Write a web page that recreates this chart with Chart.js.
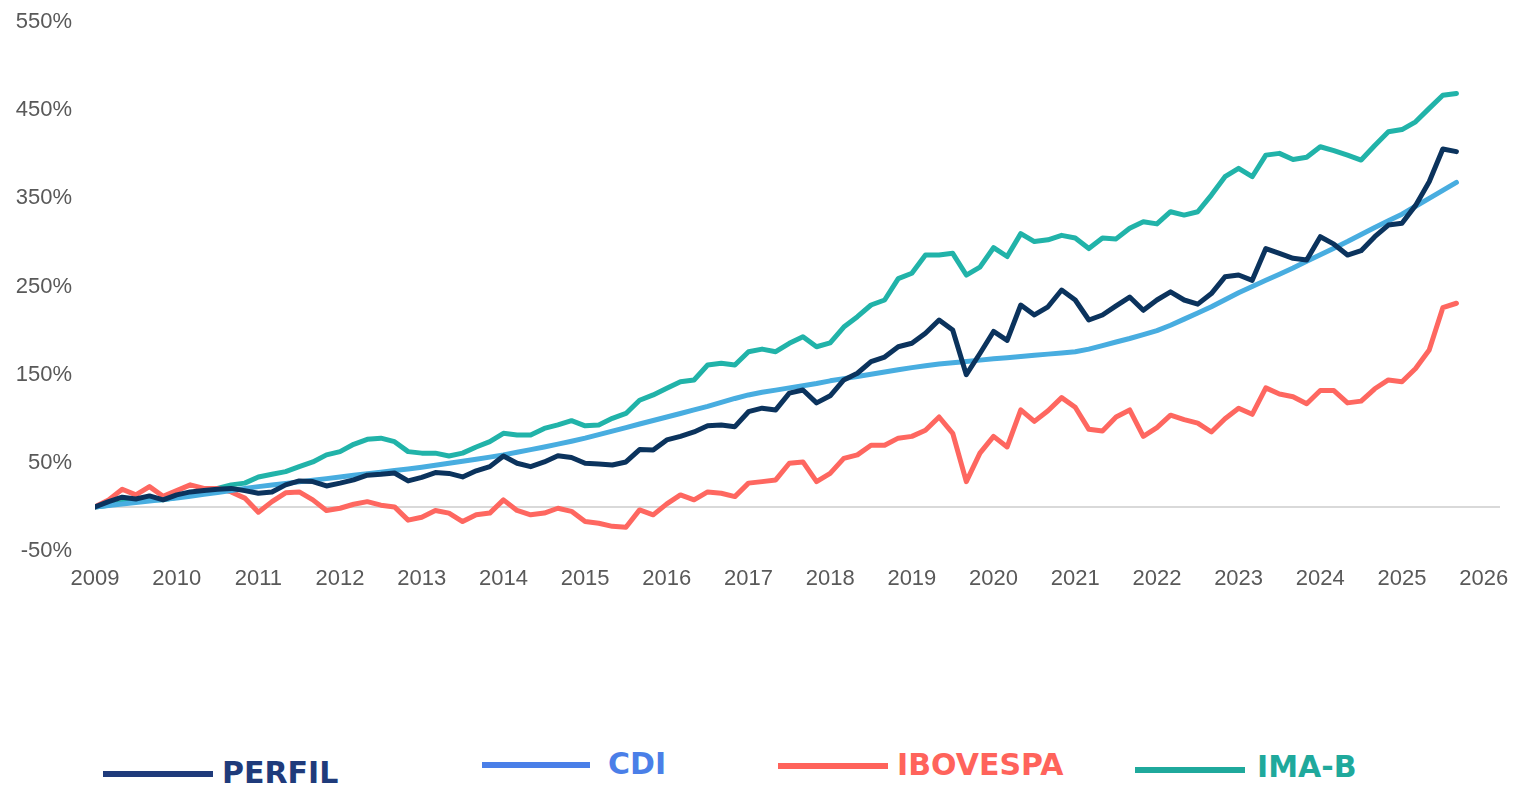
<!DOCTYPE html>
<html lang="pt-BR">
<head>
<meta charset="utf-8">
<title>PERFIL x CDI x IBOVESPA x IMA-B</title>
<script src="https://cdn.jsdelivr.net/npm/chart.js@4.4.1/dist/chart.umd.min.js"></script>
<style>
    html, body {
        margin: 0;
        padding: 0;
        background: #ffffff;
        width: 1524px;
        height: 788px;
        overflow: hidden;
    }
    #chartBox {
        position: absolute;
        left: 0;
        top: 0;
        width: 1524px;
        height: 600px;
    }
    .legend-item {
        position: absolute;
        font-family: "DejaVu Sans", "Open Sans", sans-serif;
        font-weight: bold;
        font-size: 30px;
        line-height: 30px;
        white-space: nowrap;
    }
    .legend-line {
        position: absolute;
        height: 6px;
    }
</style>
</head>
<body>
<div id="chartBox"><canvas id="returnsChart"></canvas></div>
<div id="legend"></div>

<script>
// Cumulative return (%), one point every two months, Jan 2009 -> Sep 2025
const startYear = 2009;
const stepMonths = 2;

const perfil = [
    0, 6, 11, 9, 12.5, 8, 13.6, 17, 18.5, 20,
    21, 18.5, 15.5, 17, 25, 29.5, 28.7, 23.8, 27, 30.6,
    36, 37, 38.5, 29.5, 33.6, 39, 38, 34, 41, 45.7,
    57.8, 49.5, 45.7, 51, 58, 56, 49.5, 48.7, 47.6, 51,
    65, 64.6, 76, 80, 85, 92, 93, 91, 108, 112,
    110, 129, 132.6, 118, 126, 144, 151.6, 164.7, 170, 181.7,
    185.6, 197, 212, 200.7, 150, 174, 199, 189, 229, 217.7,
    227, 246, 234.7, 212, 217.7, 228, 238, 223, 234.7, 244,
    234.7, 230, 242, 261, 263, 257, 293, 287.6, 282, 280,
    306.5, 298, 285.7, 290.6, 306.5, 319.7, 321.7, 342, 368.8, 406,
    403
];

const cdi = [
    0, 1.6, 3.3, 5, 6.6, 8.3, 10, 12, 14.2, 16.4,
    18.6, 20.8, 23, 24.8, 26.6, 28.4, 30.2, 32.1, 34, 35.8,
    37.6, 39.4, 41.2, 43.1, 45, 47.2, 49.5, 51.8, 54.1, 56.5,
    59, 62, 65, 68, 71.2, 74.5, 78, 82, 86, 90,
    94, 98, 102, 106, 110, 114, 118.5, 123, 127, 130,
    132.5, 135, 137.5, 140, 143, 145.5, 148, 150.5, 153, 155.5,
    158, 160, 162, 163.5, 165, 166.5, 168, 169.3, 170.6, 172,
    173.3, 174.6, 176, 179, 183, 187, 191, 195.5, 200, 206,
    213, 220, 227, 235, 243, 250, 257, 264, 271, 278.5,
    286, 293.5, 301, 309, 317, 324.5, 332, 341, 350, 359,
    368
];

const ibovespa = [
    0, 8, 20, 13.6, 23, 12, 18.5, 25, 21, 21,
    17, 10, -6, 6, 16, 17, 8, -4, -1.5, 3,
    6, 2, 0, -15, -11.7, -4, -7, -16.6, -9, -7,
    8, -4, -9, -7, -1.5, -5, -16.6, -18.5, -22, -23,
    -3.4, -9, 3.4, 13.6, 8, 17, 15.5, 11.7, 27, 28.7,
    30.6, 49.5, 51, 28.7, 38, 55, 59, 70, 70, 78,
    80, 87, 102, 83.5, 28.7, 61, 80, 68, 110, 97,
    109, 124, 113, 88, 86, 102, 110, 80, 90, 104,
    99, 95, 85, 100, 112, 105, 135, 128, 125, 117,
    132, 132, 118, 120, 134, 144, 142, 157, 178, 226,
    231
];

const imab = [
    0, 2, 5, 6, 8, 8, 11, 14, 18.5, 21,
    25, 27, 34, 37, 40, 45.7, 51, 59, 62.7, 71,
    76.7, 78, 74, 62.7, 61, 61, 57.8, 61, 68, 74,
    83.5, 81.6, 81.6, 89, 93, 97.8, 92, 93, 100.5, 106,
    121, 127, 134.6, 142, 144, 161, 163, 161, 176, 179,
    176, 185.6, 193, 181.7, 186, 204, 215.8, 229, 234.7, 259,
    265, 285.7, 285.7, 287.6, 263, 272, 294, 284, 310, 301,
    303, 308, 305, 293, 305, 304, 316, 323.5, 321, 334.8,
    331, 334.8, 353.7, 374.5, 384, 374.5, 399, 401, 394, 396.5,
    408.5, 404, 399, 393.4, 410, 425.5, 428, 436.8, 452, 467,
    469
];

// Axis ticks
const yearTicks = [2009, 2010, 2011, 2012, 2013, 2014, 2015, 2016, 2017, 2018,
                   2019, 2020, 2021, 2022, 2023, 2024, 2025, 2026];
const percentTicks = [-50, 0, 50, 150, 250, 350, 450, 550];

// Legend entries
const legendLabels = ['PERFIL', 'CDI', 'IBOVESPA', 'IMA-B'];

/**
 * Turns a list of values into {x, y} points, x being the decimal year.
 */
function toPoints(values) {
    return values.map((v, i) => ({ x: startYear + i * stepMonths / 12, y: v }));
}

function lineDataset(label, values, color) {
    return {
        label: label,
        data: toPoints(values),
        borderColor: color,
        backgroundColor: color,
        borderWidth: 5,
        pointRadius: 0,
        tension: 0,
        borderJoinStyle: 'round',
        borderCapStyle: 'round'
    };
}

const tickFont = { family: '"Liberation Sans", Arial, sans-serif', size: 22 };

const ctx = document.getElementById('returnsChart').getContext('2d');
new Chart(ctx, {
    type: 'line',
    data: {
        datasets: [
            lineDataset('PERFIL', perfil, '#0b335d'),
            lineDataset('CDI', cdi, '#48ade0'),
            lineDataset('IBOVESPA', ibovespa, '#fe6760'),
            lineDataset('IMA-B', imab, '#21b3a9')
        ]
    },
    options: {
        responsive: true,
        maintainAspectRatio: false,
        animation: false,
        layout: { padding: { top: 22, right: 24, left: 0, bottom: 0 } },
        plugins: {
            legend: { display: false },
            tooltip: { enabled: false }
        },
        scales: {
            x: {
                type: 'linear',
                min: 2009,
                max: 2026.2,
                afterBuildTicks: scale => { scale.ticks = yearTicks.map(v => ({ value: v })); },
                afterFit: scale => { scale.height = 49; },
                border: { display: false },
                grid: { display: false, drawTicks: false },
                ticks: {
                    font: tickFont,
                    color: '#595959',
                    padding: 15,
                    maxRotation: 0,
                    autoSkip: false,
                    callback: v => String(v)
                }
            },
            y: {
                min: -50,
                max: 550,
                afterBuildTicks: scale => { scale.ticks = percentTicks.map(v => ({ value: v })); },
                afterFit: scale => { scale.width = 95; },
                border: { display: false },
                grid: {
                    drawTicks: true,
                    tickLength: 20,
                    tickColor: 'rgba(0,0,0,0)',
                    lineWidth: 2,
                    // only the zero line is visible
                    color: c => (c.tick && c.tick.value === 0 ? '#d9d9d9' : 'rgba(0,0,0,0)')
                },
                ticks: {
                    font: tickFont,
                    color: '#595959',
                    padding: 3,
                    callback: v => (v === 0 ? '' : v + '%')
                }
            }
        }
    }
});

// Legend drawn below the chart, one line + label per series
const legendSpots = [
    { lineLeft: 103, lineWidth: 110, lineY: 774, textLeft: 222, textY: 773, color: '#1f3b7b' },
    { lineLeft: 482, lineWidth: 108, lineY: 765, textLeft: 608, textY: 764, color: '#4a7fe8' },
    { lineLeft: 778, lineWidth: 110, lineY: 766, textLeft: 897, textY: 765, color: '#ff635b' },
    { lineLeft: 1135, lineWidth: 110, lineY: 770, textLeft: 1257, textY: 767, color: '#1fa99c' }
];

const legendBox = document.getElementById('legend');
legendLabels.forEach((label, i) => {
    const s = legendSpots[i];
    const line = document.createElement('div');
    line.className = 'legend-line';
    line.style.left = s.lineLeft + 'px';
    line.style.top = (s.lineY - 3) + 'px';
    line.style.width = s.lineWidth + 'px';
    line.style.background = s.color;
    legendBox.appendChild(line);

    const text = document.createElement('div');
    text.className = 'legend-item';
    text.style.left = s.textLeft + 'px';
    text.style.top = (s.textY - 15) + 'px';
    text.style.color = s.color;
    text.textContent = label;
    legendBox.appendChild(text);
});
</script>
</body>
</html>
